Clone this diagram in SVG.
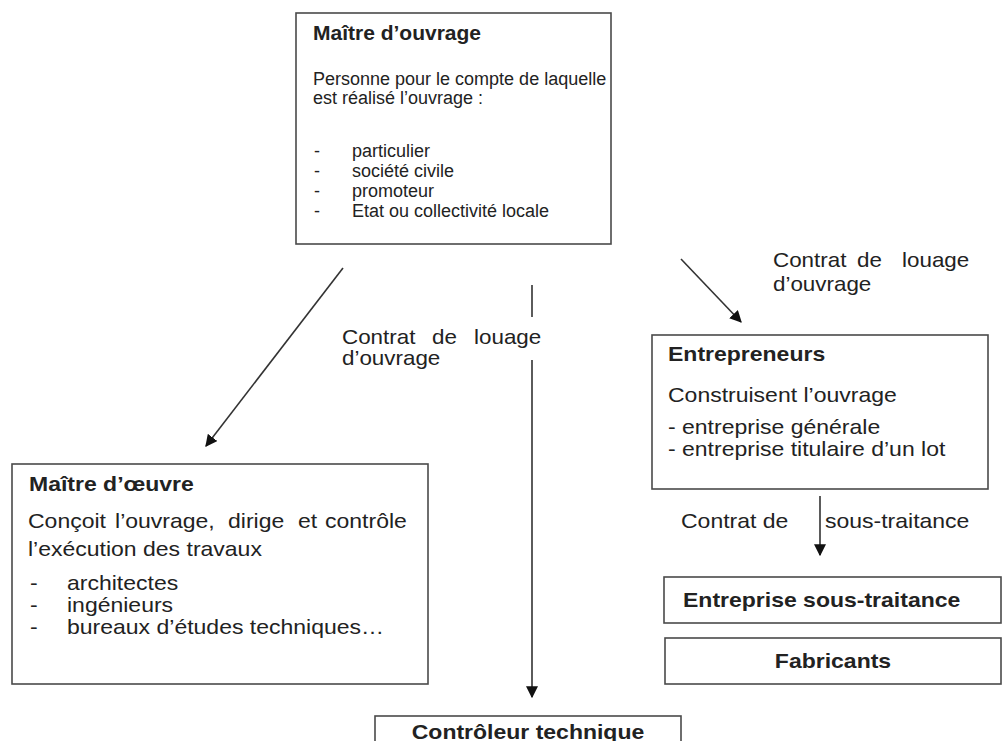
<svg xmlns="http://www.w3.org/2000/svg" width="1002" height="741" viewBox="0 0 1002 741">
  <style>
    .box { fill: #ffffff; stroke: #4a4a4a; stroke-width: 1.6; }
    .t { font-family: "Liberation Sans", Arial, sans-serif; fill: #222222; }
    .b { font-weight: bold; }
    .s18 { font-size: 18px; }
    .s20 { font-size: 20px; }
    .s21 { font-size: 21px; }
    .edge { stroke: #333333; stroke-width: 1.6; fill: none; }
  </style>
  <defs>
    <marker id="arrowL" viewBox="0 0 10 10" refX="9" refY="5" markerWidth="12" markerHeight="12" markerUnits="userSpaceOnUse" orient="auto">
      <path d="M0,0 L10,5 L0,10 z" fill="#111111"/>
    </marker>
  </defs>
  <rect width="1002" height="741" fill="#ffffff"/>

  <!-- Connectors and their labels (labels use a slightly widened face) -->
  <g id="connectors">
    <line class="edge" x1="343" y1="268" x2="206" y2="446" marker-end="url(#arrowL)"/>
    <line class="edge" x1="532" y1="285" x2="532" y2="317"/>
    <line class="edge" x1="532" y1="360" x2="532" y2="697" marker-end="url(#arrowL)"/>
    <line class="edge" x1="681" y1="259" x2="741" y2="322" marker-end="url(#arrowL)"/>
    <line class="edge" x1="820" y1="496" x2="820" y2="555" marker-end="url(#arrowL)"/>
    <text class="t s20" transform="translate(342,344) scale(1.12,1)"><tspan x="0">Contrat</tspan><tspan x="80.4">de</tspan><tspan x="117.9">louage</tspan></text>
    <text class="t s20" transform="translate(342,365) scale(1.12,1)">d’ouvrage</text>
    <text class="t s20" transform="translate(773,267) scale(1.12,1)"><tspan x="0">Contrat</tspan><tspan x="75">de</tspan><tspan x="115.2">louage</tspan></text>
    <text class="t s20" transform="translate(773,291) scale(1.12,1)">d’ouvrage</text>
    <text class="t s20" transform="translate(681,528) scale(1.15,1)"><tspan x="0">Contrat de</tspan><tspan x="125.2">sous-traitance</tspan></text>
  </g>

  <!-- Maître d'ouvrage -->
  <g id="maitre-ouvrage">
    <rect class="box" x="296" y="13" width="315" height="231"/>
    <text class="t b s21" x="313" y="40">Maître d’ouvrage</text>
    <text class="t s18" x="313" y="85">Personne pour le compte de laquelle</text>
    <text class="t s18" x="313" y="104">est réalisé l’ouvrage :</text>
    <text class="t s18" x="314" y="157">-</text>
    <text class="t s18" x="352" y="157">particulier</text>
    <text class="t s18" x="314" y="177">-</text>
    <text class="t s18" x="352" y="177">société civile</text>
    <text class="t s18" x="314" y="197">-</text>
    <text class="t s18" x="352" y="197">promoteur</text>
    <text class="t s18" x="314" y="217">-</text>
    <text class="t s18" x="352" y="217">Etat ou collectivité locale</text>
  </g>

  <!-- Maître d'œuvre -->
  <g id="maitre-oeuvre">
    <rect class="box" x="12" y="464" width="416" height="220"/>
    <text class="t b s20" transform="translate(29,491) scale(1.15,1)">Maître d’œuvre</text>
    <text class="t s20" transform="translate(28,528) scale(1.15,1)"><tspan x="0">Conçoit</tspan><tspan x="75.7">l’ouvrage,</tspan><tspan x="173.9">dirige</tspan><tspan x="234.8">et</tspan><tspan x="258.3">contrôle</tspan></text>
    <text class="t s20" transform="translate(28,556) scale(1.15,1)">l’exécution des travaux</text>
    <text class="t s20" transform="translate(30,590) scale(1.15,1)">-</text>
    <text class="t s20" transform="translate(67,590) scale(1.15,1)">architectes</text>
    <text class="t s20" transform="translate(30,612) scale(1.15,1)">-</text>
    <text class="t s20" transform="translate(67,612) scale(1.15,1)">ingénieurs</text>
    <text class="t s20" transform="translate(30,634) scale(1.15,1)">-</text>
    <text class="t s20" transform="translate(67,634) scale(1.15,1)">bureaux d’études techniques…</text>
  </g>

  <!-- Entrepreneurs -->
  <g id="entrepreneurs">
    <rect class="box" x="652" y="335" width="336" height="154"/>
    <text class="t b s20" transform="translate(668,361) scale(1.15,1)">Entrepreneurs</text>
    <text class="t s20" transform="translate(668,402) scale(1.15,1)">Construisent l’ouvrage</text>
    <text class="t s20" transform="translate(668,434) scale(1.15,1)">- entreprise générale</text>
    <text class="t s20" transform="translate(668,456) scale(1.15,1)">- entreprise titulaire d’un lot</text>
  </g>

  <!-- Entreprise sous-traitance -->
  <g id="sous-traitance">
    <rect class="box" x="664" y="577" width="337" height="46"/>
    <text class="t b s20" transform="translate(683,607) scale(1.15,1)">Entreprise sous-traitance</text>
  </g>

  <!-- Fabricants -->
  <g id="fabricants">
    <rect class="box" x="665" y="638" width="336" height="46"/>
    <text class="t b s20" transform="translate(833,668) scale(1.15,1)" text-anchor="middle">Fabricants</text>
  </g>

  <!-- Contrôleur technique -->
  <g id="controleur">
    <rect class="box" x="375" y="716" width="306" height="40"/>
    <text class="t b s20" transform="translate(528,739) scale(1.15,1)" text-anchor="middle">Contrôleur technique</text>
  </g>
</svg>
